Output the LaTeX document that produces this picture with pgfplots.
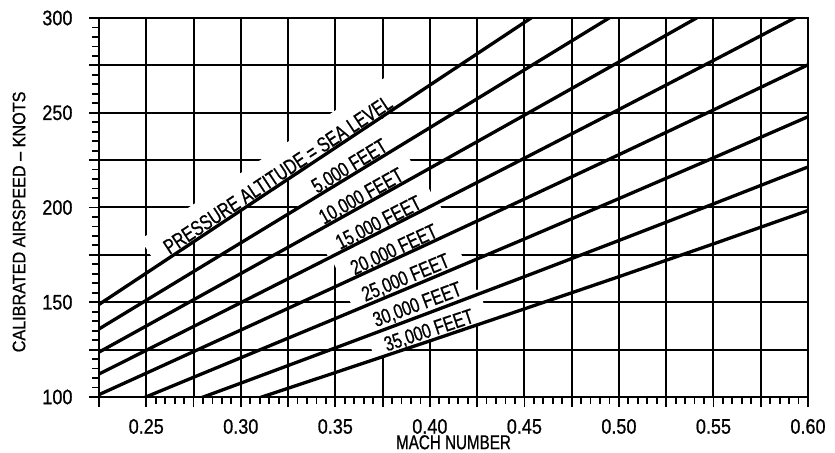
\documentclass[border=0pt]{standalone}
\usepackage{pgfplots}
\pgfplotsset{compat=1.18}
\usepackage{fontspec}
\setmainfont{Liberation Sans}[FakeStretch=0.8, FakeBold=0.8]
\newfontfamily\lblfont{Liberation Sans}[FakeStretch=0.75, FakeBold=0.8]
\newfontfamily\tickfont{Liberation Sans}[FakeStretch=0.86, FakeBold=0.8]
\newfontfamily\xlabfont{Liberation Sans}[FakeStretch=0.76, FakeBold=0.8]
\newfontfamily\ylabfont{Liberation Sans}[FakeStretch=0.9, FakeBold=0.8]
\tikzset{
  lbl/.style={anchor=south, inner xsep=14bp, inner ysep=2bp,
    text height=28bp, text depth=0bp, font=\lblfont\fontsize{21bp}{25bp}\selectfont},
  lblbox/.style={lbl, fill=white},
}
\pgfplotsset{
  curve/.style={black, line width=3.3bp, line join=round, no marks},
}

\begin{document}
\begin{tikzpicture}
\begin{axis}[
  scale only axis, width=709bp, height=379bp,
  xmin=0.225, xmax=0.6, ymin=100, ymax=300,
  xtick={0.25,0.3,0.35,0.4,0.45,0.5,0.55,0.6},
  ytick={100,150,200,250,300},
  extra x ticks={0.225,0.275,0.325,0.375,0.425,0.475,0.525,0.575},
  extra y ticks={125,175,225,275},
  extra x tick labels={}, extra y tick labels={},
  minor x tick num=9, minor y tick num=9,
  tick pos=left,
  grid=major,
  major grid style={line width=2bp, black},
  tick align=outside,
  major tick length=10bp, minor tick length=7bp,
  every tick/.style={line width=1.8bp, black},
  axis line style={line width=2bp, black},
  /pgf/number format/assume math mode=true,
  xticklabel style={font=\tickfont\fontsize{21bp}{25bp}\selectfont, yshift=-8.5bp,
    /pgf/number format/fixed, /pgf/number format/fixed zerofill, /pgf/number format/precision=2},
  yticklabel style={font=\tickfont\fontsize{21bp}{25bp}\selectfont, xshift=-13bp},
  xlabel={MACH NUMBER},
  ylabel={CALIBRATED AIRSPEED – KNOTS},
  xlabel style={font=\xlabfont\fontsize{20bp}{24bp}\selectfont, at={(axis description cs:0.5,0)}, anchor=north, yshift=-37bp, inner sep=1bp},
  ylabel style={font=\ylabfont\fontsize{18bp}{22bp}\selectfont, at={(axis description cs:-0.1128,0.462)}, anchor=center},
  clip=true,
]
\coordinate (sw) at (rel axis cs:0,0);
\coordinate (ne) at (rel axis cs:1,1);

% white backgrounds behind the curve labels
\node[lblbox, rotate=33.5, text height=27bp, inner xsep=16bp] at (axis cs:0.3223,213.2) {\phantom{PRESSURE ALTITUDE = SEA LEVEL}};
\node[lblbox, rotate=31.4] at (axis cs:0.360,217.78) {\phantom{5,000 FEET}};
\node[lblbox, rotate=29.2] at (axis cs:0.366,201.81) {\phantom{10,000 FEET}};
\node[lblbox, rotate=27.0] at (axis cs:0.375,187.75) {\phantom{15,000 FEET}};
\node[lblbox, rotate=24.8] at (axis cs:0.383,173.43) {\phantom{20,000 FEET}};
\node[lblbox, rotate=22.6] at (axis cs:0.389,158.60) {\phantom{25,000 FEET}};
\node[lblbox, rotate=20.5] at (axis cs:0.395,144.33) {\phantom{30,000 FEET}};
\node[lblbox, rotate=18.5] at (axis cs:0.401,130.63) {\phantom{35,000 FEET}};
% label texts
\node[lbl, rotate=33.5, text height=27bp, inner xsep=16bp] at (axis cs:0.3223,213.2) {PRESSURE ALTITUDE = SEA LEVEL};
\node[lbl, rotate=31.4] at (axis cs:0.360,217.78) {5,000 FEET};
\node[lbl, rotate=29.2] at (axis cs:0.366,201.81) {10,000 FEET};
\node[lbl, rotate=27.0] at (axis cs:0.375,187.75) {15,000 FEET};
\node[lbl, rotate=24.8] at (axis cs:0.383,173.43) {20,000 FEET};
\node[lbl, rotate=22.6] at (axis cs:0.389,158.60) {25,000 FEET};
\node[lbl, rotate=20.5] at (axis cs:0.395,144.33) {30,000 FEET};
\node[lbl, rotate=18.5] at (axis cs:0.401,130.63) {35,000 FEET};

% sea level
\addplot[curve] coordinates {(0.2,132.30) (0.25,165.37) (0.3,198.44) (0.35,231.52) (0.4,264.59) (0.45,297.67) (0.5,330.74)};
% 5,000 ft
\addplot[curve] coordinates {(0.2,120.77) (0.25,151.04) (0.3,181.34) (0.35,211.70) (0.4,242.12) (0.45,272.62) (0.5,303.17)};
% 10,000 ft
\addplot[curve] coordinates {(0.2,109.88) (0.25,137.47) (0.3,165.13) (0.35,192.89) (0.4,220.75) (0.45,248.73) (0.5,276.82) (0.55,305.06)};
% 15,000 ft
\addplot[curve] coordinates {(0.2,99.60) (0.25,124.64) (0.3,149.79) (0.35,175.05) (0.4,200.45) (0.45,226.00) (0.5,251.71) (0.55,277.59) (0.6,303.67)};
% 20,000 ft
\addplot[curve] coordinates {(0.2,89.92) (0.25,112.57) (0.3,135.33) (0.35,158.22) (0.4,181.26) (0.45,204.47) (0.5,227.87) (0.55,251.48) (0.6,275.30)};
% 25,000 ft
\addplot[curve] coordinates {(0.2,79.80) (0.25,100.10) (0.3,120.70) (0.35,141.40) (0.4,162.30) (0.45,183.40) (0.5,204.70) (0.55,226.20) (0.6,247.90)};
% 30,000 ft
\addplot[curve] coordinates {(0.25,88.90) (0.3,107.30) (0.35,125.90) (0.4,144.60) (0.45,163.50) (0.5,182.60) (0.55,201.90) (0.6,221.40)};
% 35,000 ft
\addplot[curve] coordinates {(0.25,79.90) (0.3,96.30) (0.35,112.90) (0.4,129.60) (0.45,146.50) (0.5,163.50) (0.55,180.80) (0.6,198.40)};
\end{axis}
\pgfresetboundingbox
\path ([shift={(-99bp,-56bp)}]sw) rectangle ([shift={(27bp,18bp)}]ne);
\end{tikzpicture}
\end{document}
